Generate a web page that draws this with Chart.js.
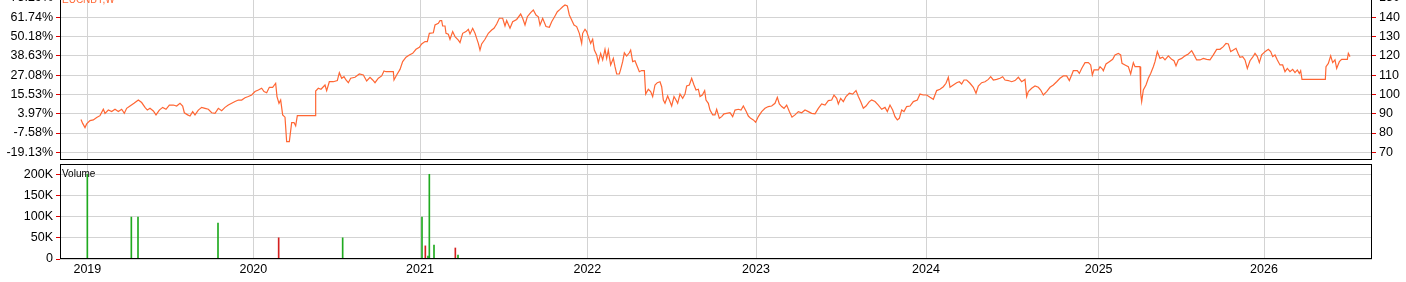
<!DOCTYPE html>
<html>
<head>
<meta charset="utf-8">
<script src="https://cdn.jsdelivr.net/npm/chart.js@4.4.1/dist/chart.umd.min.js"></script>
<style>
  html, body { margin: 0; padding: 0; background: #fff; overflow: hidden; }
  #wrap { position: relative; width: 1406px; height: 282px; overflow: hidden; }
  #priceChart { position: absolute; left: 0; top: -12px; }
  #volChart { position: absolute; left: 0; top: 150px; }
</style>
</head>
<body>
<div id="wrap">
  <canvas id="priceChart" width="1406" height="172"></canvas>
  <canvas id="volChart" width="1406" height="132"></canvas>
</div>
<script>
const symbol = 'EUCNBY,W';

// session index of each close (trading-day axis)
const days = [
  31.5, 34, 37.5, 40, 45, 50, 55, 60, 65, 67.5, 72.5, 77.5, 82.5, 87.5, 92.5, 96.5, 100, 105, 111, 117.5,
  122.5, 127.5, 131, 135, 140, 144, 149, 154, 159, 164, 170, 175, 180, 184, 186.5, 191.5, 195, 199, 202.5, 207.5,
  212.5, 217.5, 222.5, 227.5, 232.5, 237.5, 242.5, 247.5, 252.5, 257.5, 262.5, 267.5, 272.5, 277.5, 282.5, 287.5, 292.5, 297.5, 302.5, 306,
  310, 314, 319, 323.5, 325.5, 328.5, 331, 334, 337.5, 340, 344, 347.5, 351, 353.5, 356, 382.5, 383.5, 387.5, 391.5,
  397.5, 400, 404, 410, 416, 419, 422.5, 426, 429, 432.5, 436, 442.5, 449, 455, 460, 465, 469, 472.5, 477.5, 482.5,
  486, 489, 500, 501, 505, 510, 514, 519, 524, 529, 534, 539, 542.5, 547.5, 551, 554, 560, 562.5, 567.5, 570,
  572.5, 574, 577.5, 579, 582.5, 585, 589, 592.5, 597.5, 600, 604, 609, 612.5, 615, 619, 622.5, 625, 627.5, 630, 632.5,
  637.5, 642.5, 647.5, 651, 655, 659, 664, 667.5, 670, 675, 679, 685, 691, 694, 697.5, 701, 706, 710, 714, 717.5,
  720, 724, 729, 734, 737.5, 742.5, 746, 750, 754, 757.5, 761, 764, 767.5, 771, 775, 779,
  782.5, 784, 787.5, 790, 792.5, 796, 799, 801.5, 805, 807.5, 811, 814, 817.5, 820, 822.5, 826, 830, 832.5, 835, 839,
  841, 844, 846.5, 850, 854, 856, 859, 862.5, 865, 869, 872.5, 876.5, 878.5, 882.5, 886, 889, 892.5, 896, 900, 902.5,
  905, 907.5, 911.5, 914, 917.5, 921, 924, 926.5, 930, 934, 937.5, 940, 944, 947.5, 951, 954, 957.5, 960, 963.5, 967,
  969, 972.5, 975, 979, 982.5, 985, 989, 992.5, 996, 1000, 1005, 1009, 1012.5, 1017.5, 1021.5, 1025, 1029, 1032.5, 1036, 1040,
  1043.5, 1047.5, 1052.5, 1057.5, 1062.5, 1067.5, 1072.5, 1076, 1079, 1082.5, 1086, 1090, 1094, 1098, 1102.5, 1107.5, 1112.5, 1117.5, 1122.5, 1127.5,
  1132.5, 1137.5, 1142.5, 1147.5, 1152.5, 1157.5, 1161, 1165, 1167.5, 1171, 1175,
  1179, 1184, 1189, 1194, 1197.5, 1201, 1205, 1209, 1214, 1217.5, 1222.5, 1227.5, 1232.5, 1237.5, 1241, 1245, 1249, 1252.5, 1256, 1259,
  1262.5, 1266, 1270, 1275, 1280, 1286, 1290, 1295, 1300, 1305, 1310, 1315, 1320, 1325, 1329, 1332.5, 1335, 1340, 1345, 1349,
  1352.5, 1356, 1360, 1365, 1370, 1374, 1377.5, 1382.5, 1387.5, 1392.5, 1396, 1400, 1405, 1410, 1414, 1417.5, 1422.5, 1427.5, 1432.5, 1437.5,
  1442.5, 1447.5, 1450, 1452.5, 1457.5, 1462.5, 1467.5, 1471, 1475, 1480, 1485, 1490, 1495, 1500, 1505, 1510, 1514, 1517.5, 1520, 1526,
  1529, 1532.5, 1537.5, 1542.5, 1546, 1548.5, 1551, 1557.5, 1560, 1564,
  1565, 1569, 1574, 1579, 1582.5, 1587.5, 1591, 1593, 1597.5, 1602.5, 1606, 1610, 1612.5, 1620, 1621, 1622.5, 1625, 1629, 1632.5, 1636,
  1640, 1642.5, 1646, 1650, 1654, 1657.5, 1662.5, 1667.5, 1671, 1674, 1677.5, 1682.5, 1687.5, 1692.5, 1697.5, 1701, 1705, 1710, 1715, 1720,
  1725, 1730, 1735, 1740, 1745, 1749, 1752.5, 1756, 1760, 1764, 1767.5, 1770, 1774, 1777.5, 1781, 1785, 1789, 1792.5, 1796, 1799,
  1802.5, 1807.5, 1812.5, 1816, 1819, 1822.5, 1826, 1830, 1834, 1837.5, 1841, 1845, 1849, 1852.5, 1856, 1859, 1861, 1863, 1898, 1899,
  1902.5, 1906, 1909, 1912.5, 1915, 1919, 1922.5, 1931, 1932.5, 1935
];

const closes = [
  87.0, 85.0, 82.8, 84.7, 86.4, 86.8, 88.0, 89.0, 92.3, 90.2, 91.9, 91.1, 92.3, 91.1, 92.3, 90.2, 92.8, 94.0, 95.4, 97.1,
  95.8, 93.3, 91.9, 92.8, 91.4, 89.4, 91.9, 93.3, 92.3, 94.5, 94.5, 94.0, 95.4, 94.0, 90.5, 89.4, 88.8, 91.1, 89.4, 91.9,
  93.3, 92.8, 92.3, 90.5, 90.2, 92.8, 91.6, 93.3, 94.5, 95.4, 96.3, 97.1, 97.1, 98.3, 98.9, 99.7, 101.5, 102.3, 103.2, 101.5,
  100.9, 103.7, 103.7, 105.8, 98.9, 95.4, 97.1, 89.4, 88.2, 75.5, 75.5, 85.4, 85.4, 83.7, 89.0, 89.0, 101.8, 103.2, 102.7,
  104.9, 102.0, 106.6, 106.6, 107.2, 111.3, 108.4, 109.2, 107.5, 106.1, 108.4, 108.9, 110.6, 110.1, 107.0, 108.9, 107.5, 106.1, 108.4, 109.6,
  112.2, 111.8, 111.8, 107.5, 110.1, 113.0, 117.0, 119.3, 120.5, 121.3, 123.4, 124.4, 126.2, 127.4, 127.4, 131.7, 132.0, 136.0, 136.9, 138.3,
  138.3, 135.5, 135.5, 131.7, 131.2, 128.6, 132.6, 130.0, 128.2, 126.9, 131.7, 132.6, 133.8, 131.4, 134.3, 131.7, 129.1, 126.5, 123.0, 126.2,
  128.6, 131.7, 133.4, 134.3, 136.5, 139.5, 139.5, 135.5, 138.3, 134.3, 137.7, 138.9, 141.7, 139.5, 136.0, 140.3, 142.4, 143.8, 141.2, 140.3,
  136.0, 139.5, 135.2, 134.8, 137.7, 140.7, 142.9, 144.1, 145.5, 146.4, 145.9, 141.2, 138.6, 136.0, 135.2, 131.7,
  126.5, 131.7, 133.8, 132.6, 130.0, 126.5, 128.6, 123.0, 120.5, 116.5, 121.3, 117.9, 123.4, 118.7, 123.0, 115.3, 118.7, 114.4, 110.6, 110.6,
  113.0, 117.0, 121.6, 119.9, 121.6, 123.0, 117.0, 117.5, 115.3, 111.8, 112.4, 112.4, 100.2, 102.7, 101.5, 98.9, 104.9, 106.1, 106.6, 104.0,
  97.1, 95.4, 99.2, 97.1, 94.0, 98.9, 97.1, 95.4, 100.2, 98.0, 100.2, 104.4, 104.9, 108.4, 104.9, 102.3, 102.7, 98.9, 99.7, 102.0,
  97.1, 95.4, 91.9, 89.4, 89.4, 92.3, 87.6, 88.5, 89.9, 90.2, 90.5, 88.5, 91.9, 92.3, 91.9, 94.0, 91.4, 88.8, 87.6, 86.8,
  85.6, 88.5, 91.1, 92.8, 93.7, 94.0, 95.4, 98.5, 95.1, 93.7, 92.8, 94.5, 91.1, 88.2, 89.4, 91.1, 90.5, 91.9, 91.1, 90.2,
  89.9, 92.8, 95.1, 94.5, 96.8, 97.1, 99.7, 98.0, 95.1, 98.0, 96.3,
  98.9, 100.6, 100.2, 102.0, 98.9, 96.3, 92.8, 94.0, 96.3, 97.1, 96.3, 94.5, 92.3, 93.3, 91.1, 94.5, 91.9, 88.5, 86.8, 87.6,
  91.9, 91.1, 93.7, 94.0, 96.3, 97.1, 100.2, 99.7, 99.7, 98.5, 97.5, 102.0, 102.7, 104.0, 105.8, 108.9, 103.7, 104.9, 106.1, 106.6,
  105.4, 107.5, 107.5, 105.8, 103.7, 100.6, 104.4, 106.1, 106.6, 107.8, 109.2, 107.5, 107.8, 108.4, 109.2, 107.5, 107.2, 106.6, 107.2, 108.9,
  106.6, 107.8, 98.9, 101.5, 103.2, 104.4, 103.7, 102.3, 99.7, 101.5, 103.7, 104.9, 106.6, 108.4, 109.6, 109.6, 107.2, 110.1, 112.3, 112.3,
  110.9, 113.5, 116.5, 116.5, 115.3, 110.1, 112.7, 112.7, 114.4, 113.0,
  112.3, 115.8, 117.0, 118.2, 120.5, 121.3, 120.5, 116.1, 115.3, 114.4, 110.6, 116.5, 114.4, 114.4, 100.6, 96.3, 102.3, 104.9, 108.4, 110.9,
  114.4, 117.0, 122.2, 118.7, 119.3, 117.9, 120.0, 118.2, 117.5, 114.8, 117.9, 118.7, 120.0, 121.0, 122.7, 120.5, 117.9, 117.9, 118.7, 118.2,
  117.9, 120.5, 123.4, 123.4, 124.8, 126.5, 126.2, 122.2, 123.0, 123.9, 121.0, 119.3, 119.6, 117.9, 113.5, 117.5, 119.3, 121.3, 119.6, 116.5,
  120.5, 122.2, 123.4, 122.2, 119.6, 120.5, 117.9, 115.3, 115.3, 111.8, 113.5, 111.8, 113.0, 111.3, 112.7, 110.9, 112.3, 107.8, 107.8, 114.4,
  116.1, 120.0, 116.5, 117.9, 113.5, 117.0, 118.2, 118.2, 121.3, 119.6
];

const volDays = [41, 107, 117, 237, 328, 424, 543, 548, 552, 554, 561, 593, 597, 690, 732, 771, 793];
const volumes = [200000, 99000, 99000, 85000, 50000, 50000, 99000, 31000, 7000, 200000, 33000, 26000, 9000, 1500, 1000, 1500, 1000];
const volUp = [true, true, true, true, false, true, true, false, true, true, true, false, true, true, true, false, true];

const yearTicks = [41, 290, 540, 791, 1044, 1299, 1558, 1806];
const yearLabels = ['2019', '2020', '2021', '2022', '2023', '2024', '2025', '2026'];

const priceTicks = [70, 80, 90, 100, 110, 120, 130, 140, 150];
const pctLabels = ['-19.13%', '-7.58%', '3.97%', '15.53%', '27.08%', '38.63%', '50.18%', '61.74%', '73.29%'];

const volTicks = [0, 50000, 100000, 150000, 200000];
const volLabels = ['0', '50K', '100K', '150K', '200K'];

const lineColor = '#ff6633';
const gridColor = '#d3d3d3';
const tickRed = '#e00000';

Chart.defaults.font.family = '"Liberation Sans", Arial, sans-serif';
Chart.defaults.font.size = 12.5;
Chart.defaults.color = '#000';

// black box round the plot area plus the small caption in its corner
const frame = {
  id: 'frame',
  afterDraw(chart, args, opts) {
    const { ctx, chartArea: a } = chart;
    ctx.save();
    ctx.strokeStyle = '#000';
    ctx.lineWidth = 1;
    ctx.strokeRect(a.left + 0.5, a.top + 0.5, a.right - a.left - 1, a.bottom - a.top - 1);
    ctx.fillStyle = opts.color;
    ctx.font = '10px "Liberation Sans", Arial, sans-serif';
    ctx.textBaseline = 'alphabetic';
    ctx.fillText(opts.text, a.left + 2, a.top + opts.dy);
    ctx.restore();
  }
};

const xMin = 0, xMax = 1968;

function yearAxis(height, showLabels) {
  return {
    type: 'linear',
    min: xMin,
    max: xMax,
    offset: false,
    border: { display: false },
    grid: { color: gridColor, drawTicks: false, offset: false },
    ticks: {
      display: showLabels,
      autoSkip: false,
      maxRotation: 0,
      padding: 3,
      callback: (v, i) => yearLabels[i]
    },
    afterBuildTicks: s => { s.ticks = yearTicks.map(v => ({ value: v })); },
    afterFit: s => { s.height = height; s.paddingLeft = 0; s.paddingRight = 0; }
  };
}

function valueAxis(pos, width, min, max, tickVals, labels) {
  return {
    type: 'linear',
    position: pos,
    min: min,
    max: max,
    border: { display: false },
    grid: { color: gridColor, tickColor: tickRed, tickLength: 4 },
    ticks: {
      autoSkip: false,
      padding: 3,
      callback: (v, i) => labels[i]
    },
    afterBuildTicks: s => { s.ticks = tickVals.map(v => ({ value: v })); },
    afterFit: s => { s.width = width; s.paddingTop = 0; s.paddingBottom = 0; }
  };
}

const priceMin = 66.0, priceMax = 155.2;

new Chart(document.getElementById('priceChart'), {
  type: 'line',
  data: {
    datasets: [{
      label: symbol,
      data: days.map((d, i) => ({ x: d, y: closes[i] })),
      borderColor: lineColor,
      borderWidth: 1.2,
      pointRadius: 0,
      tension: 0,
      yAxisID: 'y'
    }]
  },
  options: {
    responsive: false,
    animation: false,
    layout: { padding: 0 },
    plugins: {
      legend: { display: false },
      tooltip: { enabled: false },
      frame: { text: symbol, color: lineColor, dy: 15 }
    },
    scales: {
      x: yearAxis(0, false),
      yL: valueAxis('left', 60, priceMin, priceMax, priceTicks, pctLabels),
      y: valueAxis('right', 34, priceMin, priceMax, priceTicks, priceTicks.map(String))
    }
  },
  plugins: [frame]
});

new Chart(document.getElementById('volChart'), {
  type: 'bar',
  data: {
    datasets: [{
      label: 'Volume',
      data: volDays.map((d, i) => ({ x: d, y: volumes[i] })),
      backgroundColor: volUp.map(u => u ? '#1faa1f' : '#d42020'),
      barThickness: 1
    }]
  },
  options: {
    responsive: false,
    animation: false,
    layout: { padding: { top: 14, right: 34 } },
    plugins: {
      legend: { display: false },
      tooltip: { enabled: false },
      frame: { text: 'Volume', color: '#000', dy: 13 }
    },
    scales: {
      x: yearAxis(23, true),
      y: valueAxis('left', 60, 0, 224300, volTicks, volLabels)
    }
  },
  plugins: [frame]
});
</script>
</body>
</html>
